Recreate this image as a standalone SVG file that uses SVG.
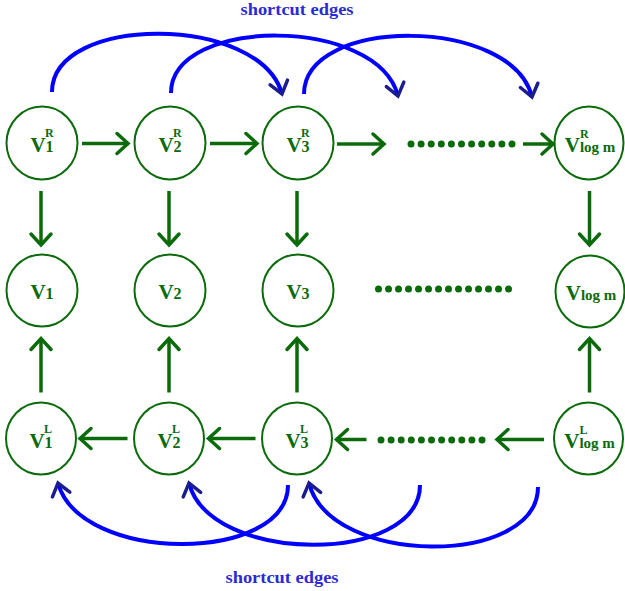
<svg xmlns="http://www.w3.org/2000/svg" width="625" height="591" viewBox="0 0 625 591">
<style>
.n{fill:none;stroke:#0b6b0b;stroke-width:2}
.t{font-family:"Liberation Serif","Times New Roman",serif;font-weight:bold;fill:#0b6b0b}
.V{font-size:21px}
.s{font-size:16px}
.lg{font-size:15px}
.p{font-size:12px}
.g{fill:none;stroke:#0b6b0b;stroke-width:3.5;marker-end:url(#ga)}
.b{fill:none;stroke:#0000ff;stroke-width:4;marker-end:url(#ba)}
.d{fill:#0b6b0b}
.cap{font-family:"Liberation Serif","Times New Roman",serif;font-weight:bold;font-size:17px;fill:#2b2bd1}
</style>
<defs>
<marker id="ga" markerUnits="userSpaceOnUse" markerWidth="30" markerHeight="30" refX="0" refY="0" viewBox="-15 -15 30 30" orient="auto" overflow="visible">
<path d="M-11,-10 L0,0 L-11,10" fill="none" stroke="#0b6b0b" stroke-width="3.5" stroke-linecap="round" stroke-linejoin="miter"/>
</marker>
<marker id="ba" markerUnits="userSpaceOnUse" markerWidth="30" markerHeight="30" refX="0" refY="0" viewBox="-15 -15 30 30" orient="auto" overflow="visible">
<path d="M-12,-9 L0,0 L-12,9" fill="none" stroke="#1c1c8f" stroke-width="3.5" stroke-linecap="round"/>
</marker>
</defs>
<rect width="625" height="591" fill="#fff"/>

<text class="cap" x="297" y="15" text-anchor="middle" textLength="113" lengthAdjust="spacingAndGlyphs">shortcut edges</text>
<text class="cap" x="282" y="583" text-anchor="middle" textLength="113" lengthAdjust="spacingAndGlyphs">shortcut edges</text>

<g id="v1R"><ellipse class="n" cx="42" cy="143" rx="35.5" ry="36.5"/><text class="t" x="42" y="152" text-anchor="middle"><tspan class="V">V</tspan><tspan class="s">1</tspan></text><text class="t p" x="45" y="137">R</text></g>
<g id="v2R"><ellipse class="n" cx="170" cy="143" rx="35.5" ry="36.5"/><text class="t" x="170" y="152" text-anchor="middle"><tspan class="V">V</tspan><tspan class="s">2</tspan></text><text class="t p" x="173" y="137">R</text></g>
<g id="v3R"><ellipse class="n" cx="298" cy="143" rx="35.5" ry="36.5"/><text class="t" x="298" y="152" text-anchor="middle"><tspan class="V">V</tspan><tspan class="s">3</tspan></text><text class="t p" x="301" y="137">R</text></g>
<g id="vlogmR"><ellipse class="n" cx="589" cy="143" rx="34.5" ry="36.5"/><text class="t" x="590" y="152" text-anchor="middle"><tspan class="V">V</tspan><tspan class="lg">log m</tspan></text><text class="t p" x="580" y="138">R</text></g>

<g id="v1"><ellipse class="n" cx="42" cy="290.5" rx="35.5" ry="36"/><text class="t" x="42" y="299" text-anchor="middle"><tspan class="V">V</tspan><tspan class="s">1</tspan></text></g>
<g id="v2"><ellipse class="n" cx="170" cy="290.5" rx="35.5" ry="36"/><text class="t" x="170" y="299" text-anchor="middle"><tspan class="V">V</tspan><tspan class="s">2</tspan></text></g>
<g id="v3"><ellipse class="n" cx="298" cy="290.5" rx="35.5" ry="36"/><text class="t" x="298" y="299" text-anchor="middle"><tspan class="V">V</tspan><tspan class="s">3</tspan></text></g>
<g id="vlogm"><ellipse class="n" cx="590" cy="291.5" rx="34.5" ry="36"/><text class="t" x="591" y="299.5" text-anchor="middle"><tspan class="V">V</tspan><tspan class="lg">log m</tspan></text></g>

<g id="v1L"><ellipse class="n" cx="41" cy="438.5" rx="35" ry="36"/><text class="t" x="41" y="447.5" text-anchor="middle"><tspan class="V">V</tspan><tspan class="s">1</tspan></text><text class="t p" x="44" y="432.5">L</text></g>
<g id="v2L"><ellipse class="n" cx="169" cy="438.5" rx="35" ry="36"/><text class="t" x="169" y="447.5" text-anchor="middle"><tspan class="V">V</tspan><tspan class="s">2</tspan></text><text class="t p" x="172" y="432.5">L</text></g>
<g id="v3L"><ellipse class="n" cx="297" cy="438.5" rx="35" ry="36"/><text class="t" x="297" y="447.5" text-anchor="middle"><tspan class="V">V</tspan><tspan class="s">3</tspan></text><text class="t p" x="300" y="432.5">L</text></g>
<g id="vlogmL"><ellipse class="n" cx="588.5" cy="438.5" rx="34.5" ry="36"/><text class="t" x="589.5" y="447.5" text-anchor="middle"><tspan class="V">V</tspan><tspan class="lg">log m</tspan></text><text class="t p" x="579.5" y="433.5">L</text></g>

<g id="connectors">
<path class="g" d="M82,143.5 H128"/>
<path class="g" d="M210,143.5 H257"/>
<path class="g" d="M337,144 H384"/>
<path class="g" d="M523,144 H553"/>
<path class="g" d="M41,191 V245"/>
<path class="g" d="M169,191 V245"/>
<path class="g" d="M297,191 V245"/>
<path class="g" d="M589.5,191 V245"/>
<path class="g" d="M41,392.5 V338.5"/>
<path class="g" d="M169,392.5 V338.5"/>
<path class="g" d="M297,392.5 V338.5"/>
<path class="g" d="M589.5,392.5 V338.5"/>
<path class="g" d="M127.5,438.5 H80"/>
<path class="g" d="M255.5,438.5 H208.5"/>
<path class="g" d="M366.5,439.5 H336.5"/>
<path class="g" d="M544,439.5 H497"/>
<g class="d">
<circle cx="411" cy="144" r="3.5"/><circle cx="421.1" cy="144" r="3.5"/><circle cx="431.2" cy="144" r="3.5"/><circle cx="441.3" cy="144" r="3.5"/><circle cx="451.4" cy="144" r="3.5"/><circle cx="461.5" cy="144" r="3.5"/><circle cx="471.6" cy="144" r="3.5"/><circle cx="481.7" cy="144" r="3.5"/><circle cx="491.8" cy="144" r="3.5"/><circle cx="501.9" cy="144" r="3.5"/><circle cx="512" cy="144" r="3.5"/>
<circle cx="378.5" cy="289" r="3.5"/><circle cx="388.5" cy="289" r="3.5"/><circle cx="398.5" cy="289" r="3.5"/><circle cx="408.5" cy="289" r="3.5"/><circle cx="418.5" cy="289" r="3.5"/><circle cx="428.5" cy="289" r="3.5"/><circle cx="438.5" cy="289" r="3.5"/><circle cx="448.5" cy="289" r="3.5"/><circle cx="458.5" cy="289" r="3.5"/><circle cx="468.5" cy="289" r="3.5"/><circle cx="478.5" cy="289" r="3.5"/><circle cx="488.5" cy="289" r="3.5"/><circle cx="498.5" cy="289" r="3.5"/><circle cx="508.5" cy="289" r="3.5"/>
<circle cx="381" cy="440" r="3.5"/><circle cx="391.1" cy="440" r="3.5"/><circle cx="401.2" cy="440" r="3.5"/><circle cx="411.3" cy="440" r="3.5"/><circle cx="421.4" cy="440" r="3.5"/><circle cx="431.5" cy="440" r="3.5"/><circle cx="441.6" cy="440" r="3.5"/><circle cx="451.7" cy="440" r="3.5"/><circle cx="461.8" cy="440" r="3.5"/><circle cx="471.9" cy="440" r="3.5"/><circle cx="482" cy="440" r="3.5"/>
</g>
<path class="b" d="M52,92 C52,14 260,14 282,94"/>
<path class="b" d="M171,93 C171,16 378,16 398,96"/>
<path class="b" d="M304,94 C304,16 512,16 532,97"/>
<path class="b" d="M288,485 C288,564 80,564 58,483"/>
<path class="b" d="M420,485 C420,565 210,565 189,483"/>
<path class="b" d="M538,487 C538,567 330,567 309,483"/>
</g>
</svg>
